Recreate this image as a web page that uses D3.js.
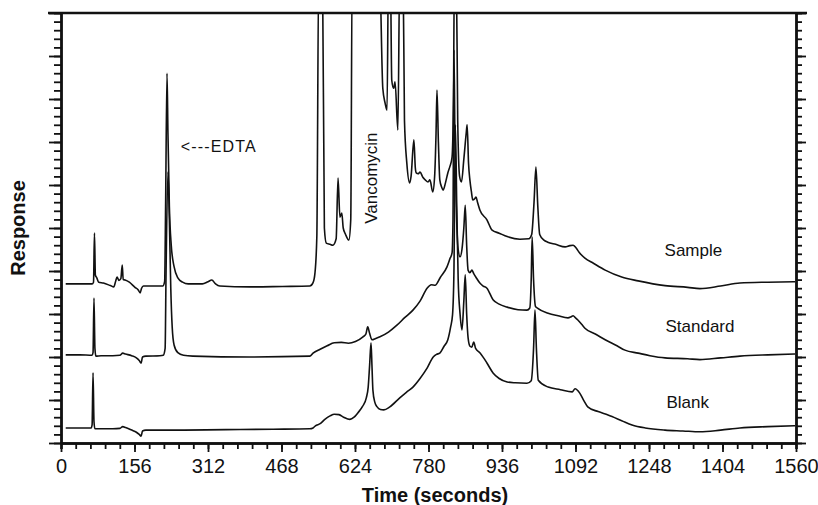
<!DOCTYPE html>
<html><head><meta charset="utf-8">
<script src="https://cdn.jsdelivr.net/npm/d3@7"></script>
<style>
body{margin:0;background:#fff}
svg{display:block}
text{font-family:"Liberation Sans",Arial,Helvetica,sans-serif;fill:#111}
</style>
</head><body>
<svg id="chart" width="818" height="505"></svg>
<script>
// ---- data: [time (s), response (arbitrary units, 0-100 full scale)] ----
const timeTicks = [0,156,312,468,624,780,936,1092,1248,1404,1560];
const responseTicks = [0,10,20,30,40,50,60,70,80,90,100];
const seriesNames = ["Sample","Standard","Blank"];

const sampleTrace = [[10,37.0],[40,37.0],[66,37.0],[69,37.4],[71,48.8],[73,39.0],[76,38.4],[80,37.4],[90,37.2],[105,36.6],[112,36.3],[116,37.6],[119,38.6],[123,37.8],[127,38.2],[130,41.4],[132,38.0],[136,37.9],[145,37.4],[157,36.2],[164,35.6],[168,34.9],[171,36.0],[175,36.5],[200,36.5],[216,36.5],[220,37.6],[222,55],[225,86],[227,72],[230,55],[234,46],[240,41],[248,38.4],[258,37.4],[270,37.0],[300,37.0],[312,37.5],[320,37.9],[328,37.0],[337,36.5],[400,36.3],[470,36.4],[528,36.5],[535,37.3],[539,39.5],[543,48],[547,110],[555,110],[559,50],[563,46.5],[571,46.2],[577,46.0],[584,47.5],[588,61.6],[592,52.5],[596,53.5],[599,50],[604,48.5],[611,47.2],[615,52],[618,110],[676,110],[683,82.5],[688,79],[692,77.4],[695,110],[699,110],[702,84.4],[706,82.5],[709,84.0],[715,72.8],[719,110],[726,110],[729,75],[734,65.1],[740,60.5],[743,62],[749,70.5],[752,64],[754,62.8],[758,62.6],[762,63.0],[768,61.8],[773,61.2],[779,60.7],[783,61.2],[789,58.4],[793,62],[796,72],[798,82.1],[801,70],[804,61.2],[808,59.5],[811,58.8],[816,60.5],[821,62.8],[826,64.5],[830,66.5],[833,80],[835,110],[839,110],[842,75],[846,62],[850,60.7],[855,66],[860,72],[862,74],[865,65],[868,61],[871,58.5],[874,56.5],[878,56.8],[881,57.2],[884,56],[889,54.2],[904,51.9],[915,49.5],[930,48.8],[947,48.0],[974,47.4],[993,47.5],[999,48.5],[1004,56],[1008,64.2],[1012,55],[1016,48.5],[1025,47.2],[1033,46.7],[1050,46.2],[1070,45.6],[1080,45.9],[1087,46.0],[1093,45.4],[1100,44.3],[1112,43.0],[1130,41.8],[1155,40.2],[1190,38.6],[1225,37.7],[1282,36.6],[1330,36.2],[1356,35.9],[1400,36.5],[1441,37.2],[1500,37.4],[1558,37.5]];

const standardTrace = [[10,20.5],[40,20.5],[66,20.4],[68,21],[70,33.7],[72,22],[74,20.2],[85,20.3],[110,20.3],[125,20.4],[131,20.9],[137,20.7],[150,20.3],[160,19.8],[166,19.2],[170,18.6],[173,20.0],[180,20.2],[210,20.3],[217,20.4],[221,22],[223,40],[227,63],[230,52],[233,36],[236,27],[240,22.8],[248,21.0],[260,20.4],[280,20.2],[400,20.0],[528,20.2],[535,20.9],[550,21.8],[565,22.6],[580,23.3],[595,23.4],[610,23.2],[625,23.6],[641,24.7],[647,25.3],[651,27.0],[655,25.5],[660,24.0],[668,24.3],[677,24.7],[695,25.8],[713,27.4],[730,29.2],[747,30.9],[762,33],[777,36.0],[786,36.8],[794,36.7],[805,38.5],[819,40.9],[826,43],[830,44.2],[832,52],[834,91.4],[836,72],[839,55],[843,45],[847,43.3],[851,45],[855,50],[858,55.3],[861,46],[864,40.2],[868,39.6],[872,40.2],[876,39.4],[881,38.5],[889,37.2],[896,36.5],[904,36.0],[917,33.3],[930,32.3],[947,31.6],[970,31.0],[989,30.9],[995,31.4],[998,38],[1000,47.9],[1003,38],[1007,31.8],[1012,31.3],[1034,30.2],[1055,29.6],[1076,29.1],[1082,29.3],[1087,29.6],[1092,29.1],[1097,28.6],[1105,27.6],[1112,26.7],[1135,25.3],[1155,24.0],[1180,22.6],[1197,21.6],[1225,20.9],[1250,20.3],[1282,19.8],[1330,19.6],[1356,19.4],[1400,19.8],[1441,20.2],[1500,20.5],[1558,20.7]];

const blankTrace = [[10,3.5],[40,3.5],[64,3.5],[66,4.2],[68,16.3],[70,5],[72,3.3],[90,3.3],[110,3.3],[125,3.4],[131,3.8],[137,3.6],[150,3.0],[160,2.5],[166,2.0],[170,1.6],[173,2.8],[180,3.0],[250,3.0],[350,3.1],[450,3.2],[528,3.3],[535,3.5],[540,4.0],[550,4.5],[560,5.5],[571,6.3],[580,6.7],[590,6.6],[600,6.0],[613,5.5],[622,6.0],[630,7.0],[640,8.5],[648,10.5],[652,13],[655,18],[658,23.3],[660,18],[662,12.3],[666,9.5],[671,8.4],[678,7.8],[685,7.7],[698,8.4],[719,10.5],[733,11.8],[747,13.0],[762,15.0],[777,17.4],[790,20.0],[797,20.6],[804,20.9],[813,22.5],[821,24.0],[827,27],[831,29.8],[834,40],[837,74],[840,55],[843,38],[847,30],[851,26.3],[855,33],[858,39.1],[861,30],[864,24.5],[868,22.5],[872,22.3],[876,23.5],[880,22],[889,21.0],[897,19.8],[904,18.6],[917,16.3],[930,15.0],[947,14.2],[964,14.0],[989,13.9],[998,14.5],[1003,22],[1006,30.9],[1009,22],[1013,14.6],[1034,13.0],[1060,12.4],[1085,11.9],[1091,12.6],[1101,11.6],[1110,9.8],[1118,8.4],[1140,7.3],[1161,6.5],[1190,5.2],[1212,4.2],[1240,3.5],[1282,3.0],[1320,2.8],[1356,2.6],[1400,3.0],[1441,3.5],[1500,3.8],[1558,4.0]];

// label anchor values [time, response]
const seriesLabelPos = [[1281,43.5],[1283,25.8],[1285,8.1]];
const edtaLabel = {text:"<---EDTA", t:254, r:67.7};
const vancoLabel = {text:"Vancomycin", t:660, r:61.6};

// ---- drawing ----
const W=818,H=505;
const L=61,R=796,T=13,B=443;
const svg=d3.select("#chart");
const x=d3.scaleLinear().domain([0,1560]).range([L,R]);
const y=d3.scaleLinear().domain([0,100]).range([B,T]);
const ink="#111";

svg.append("defs").append("clipPath").attr("id","plotclip")
  .append("rect").attr("x",L).attr("y",T).attr("width",R-L).attr("height",B-T);

const line=d3.line().x(d=>x(d[0])).y(d=>y(d[1])).curve(d3.curveMonotoneX);
const g=svg.append("g").attr("clip-path","url(#plotclip)");
[sampleTrace,standardTrace,blankTrace].forEach(tr=>{
  g.append("path").attr("d",line(tr)).attr("fill","none")
   .attr("stroke",ink).attr("stroke-width",1.6).attr("stroke-linejoin","round");
});

const minorX=d3.range(0,1560.1,31.2);
const minorY=d3.range(0,100.1,2);

function styleAxis(sel){
  sel.selectAll(".domain").attr("stroke",ink).attr("stroke-width",2.4);
  sel.selectAll(".tick line").attr("stroke",ink).attr("stroke-width",1.8);
}
// bottom
svg.append("g").attr("transform",`translate(0,${B})`)
  .call(d3.axisBottom(x).tickValues(minorX).tickSize(6).tickFormat("")).call(styleAxis);
const bx=svg.append("g").attr("transform",`translate(0,${B})`)
  .call(d3.axisBottom(x).tickValues(timeTicks).tickSize(9).tickPadding(7).tickSizeOuter(0).tickFormat(d3.format("d")));
styleAxis(bx);
bx.selectAll("text").attr("font-size",20).attr("fill",ink).attr("font-family",'"Liberation Sans",Arial,sans-serif');
// left
svg.append("g").attr("transform",`translate(${L},0)`)
  .call(d3.axisLeft(y).tickValues(minorY).tickSize(7).tickFormat("").tickSizeOuter(0)).call(styleAxis);
svg.append("g").attr("transform",`translate(${L},0)`)
  .call(d3.axisLeft(y).tickValues(responseTicks).tickSize(12).tickFormat("").tickSizeOuter(0)).call(styleAxis);
// right
svg.append("g").attr("transform",`translate(${R},0)`)
  .call(d3.axisRight(y).tickValues(minorY).tickSize(6).tickFormat("").tickSizeOuter(0)).call(styleAxis);
svg.append("g").attr("transform",`translate(${R},0)`)
  .call(d3.axisRight(y).tickValues(responseTicks).tickSize(10).tickFormat("").tickSizeOuter(0)).call(styleAxis);
// top frame
svg.append("line").attr("x1",L-13).attr("x2",R+11).attr("y1",T).attr("y2",T)
  .attr("stroke",ink).attr("stroke-width",2.4);

// axis titles
svg.append("text").attr("x",435).attr("y",502).attr("text-anchor","middle")
  .attr("font-size",20).attr("font-weight","bold").text("Time (seconds)");
svg.append("text").attr("transform","translate(25,228) rotate(-90)").attr("text-anchor","middle")
  .attr("font-size",20).attr("font-weight","bold").text("Response");

// annotations
svg.append("text").attr("x",x(edtaLabel.t)).attr("y",y(edtaLabel.r)).attr("font-size",16)
  .attr("textLength",75).attr("lengthAdjust","spacing").text(edtaLabel.text);
svg.append("text").attr("transform",`translate(${x(vancoLabel.t)+5},${y(vancoLabel.r)}) rotate(-90)`)
  .attr("text-anchor","middle").attr("font-size",17).text(vancoLabel.text);
seriesNames.forEach((n,i)=>{
  svg.append("text").attr("x",x(seriesLabelPos[i][0])).attr("y",y(seriesLabelPos[i][1]))
    .attr("font-size",17).text(n);
});
</script>
</body></html>
